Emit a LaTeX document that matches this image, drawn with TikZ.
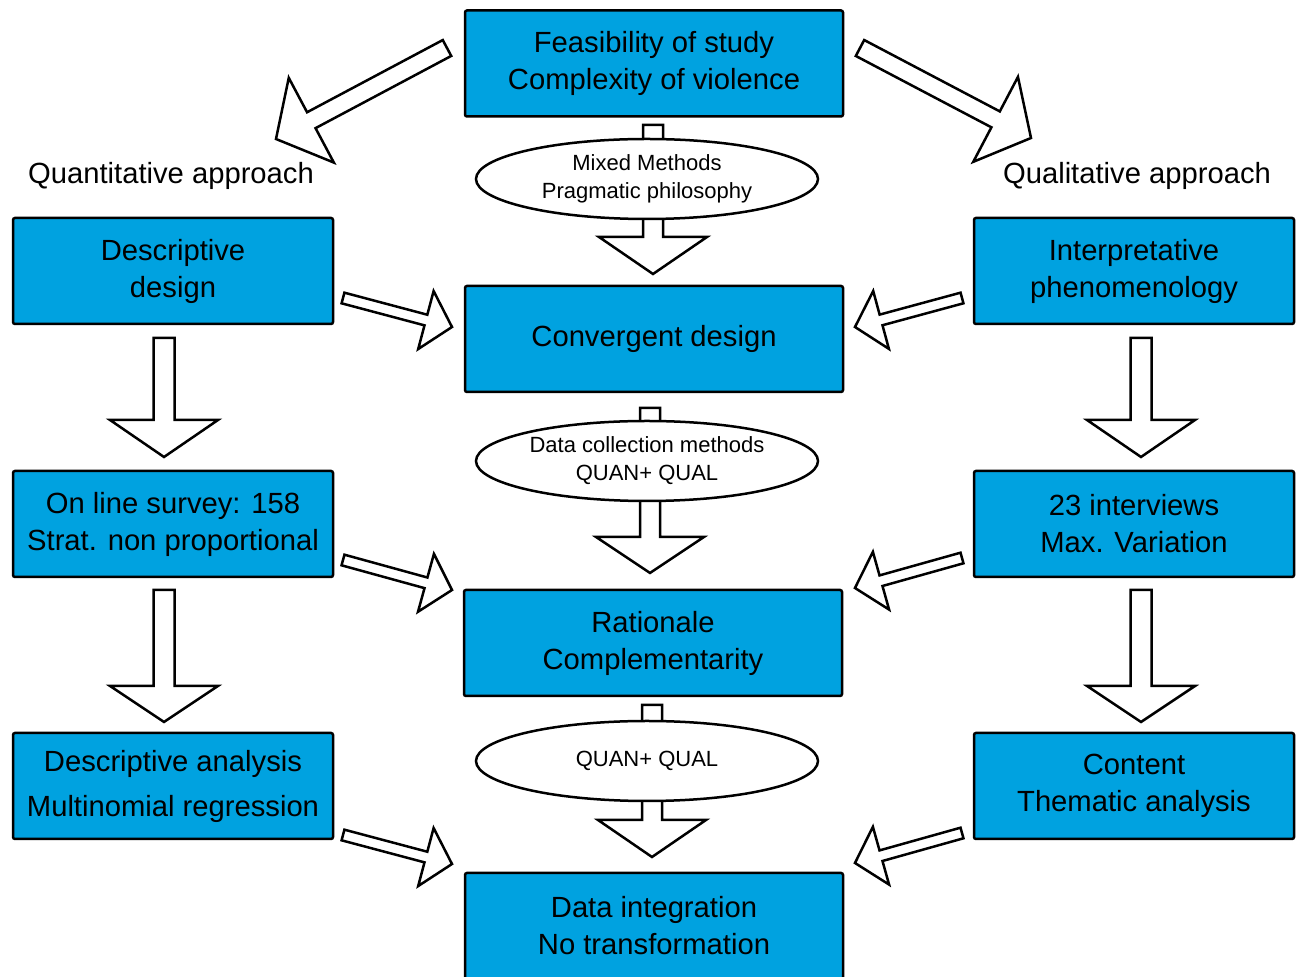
\documentclass[tikz,border=0pt]{standalone}
\usepackage{fontspec}
\setmainfont{Liberation Sans}
\usetikzlibrary{calc,shapes.geometric}
\definecolor{boxblue}{RGB}{0,162,224}
\tikzset{
  bluebox/.style={draw=black, line width=1.25pt, fill=boxblue, rounded corners=1pt,
    align=center, inner sep=0pt, font=\fontsize{14.6}{18.5}\selectfont},
  centerbox/.style={bluebox, minimum width=189pt, minimum height=53pt},
  sidebox/.style={bluebox, minimum width=160pt, minimum height=53pt},
  oval/.style={draw=black, line width=1.25pt, fill=white, ellipse, inner sep=0pt,
    minimum width=171pt, minimum height=40pt, align=center, font=\fontsize{11}{14}\selectfont},
  lbl/.style={inner sep=0pt, font=\fontsize{14.6}{18}\selectfont},
  blockarrow/.style={draw=black, line width=1.25pt, fill=white, line join=miter}
}
% #1 tail, #2 tip, #3 stem half width, #4 head half width, #5 head length
\newcommand{\blockarr}[5]{%
  \path ($(#2)!#5!(#1)$) coordinate (ba-h);
  \draw[blockarrow] ($(#1)!#3!90:(#2)$) -- ($(ba-h)!#3!90:(#2)$) -- ($(ba-h)!#4!90:(#2)$)
    -- (#2) -- ($(ba-h)!#4!-90:(#2)$) -- ($(ba-h)!#3!-90:(#2)$) -- ($(#1)!#3!-90:(#2)$) -- cycle;
}
\begin{document}
\begin{tikzpicture}[x=0.5pt,y=-0.5pt]
\clip (0,0) rectangle (1298,977);
\fill[white] (0,0) rectangle (1298,977);

% boxes
\node[centerbox] (top) at (654,63.5) {Feasibility of study\\Complexity of violence};
\node[centerbox] (conv) at (654,339) {Convergent design};
\node[centerbox] (rat) at (653,643) {Rationale\\Complementarity};
\node[centerbox] (integ) at (654,926) {Data integration\\No transformation};

\node[sidebox] (l1) at (173,271) {Descriptive\\design};
\node[sidebox] (l2) at (173,524) {On line survey: 158\\Strat. non proportional};
\node[sidebox] (l3) at (173,786) {Descriptive analysis\\[4pt]Multinomial regression};

\node[sidebox] (r1) at (1134,271) {Interpretative\\phenomenology};
\node[sidebox] (r2) at (1134,524) {23 interviews\\Max. Variation};
\node[sidebox] (r3) at (1134,786) {Content\\Thematic analysis};

\node[lbl] (quan) at (171,176) {Quantitative approach};
\node[lbl] (qual) at (1137,176) {Qualitative approach};

% coordinates for arrows
\coordinate (c1a) at (653,125); \coordinate (c1b) at (653,274);
\coordinate (c2a) at (650,408); \coordinate (c2b) at (650,573);
\coordinate (c3a) at (652,705); \coordinate (c3b) at (652,857);

\coordinate (lv1a) at (164,338); \coordinate (lv1b) at (164,457);
\coordinate (lv2a) at (164,590); \coordinate (lv2b) at (164,722);
\coordinate (rv1a) at (1141,338); \coordinate (rv1b) at (1141,457);
\coordinate (rv2a) at (1141,590); \coordinate (rv2b) at (1141,722);

\coordinate (dla) at (447,48); \coordinate (dlb) at (276,139);
\coordinate (dra) at (860,48); \coordinate (drb) at (1031,138);

\coordinate (m1a) at (343,298); \coordinate (m1b) at (452,327);
\coordinate (m2a) at (962,298); \coordinate (m2b) at (855,327);
\coordinate (m3a) at (343,560); \coordinate (m3b) at (452,590);
\coordinate (m4a) at (962,558); \coordinate (m4b) at (855,588);
\coordinate (m5a) at (343,835); \coordinate (m5b) at (452,864);
\coordinate (m6a) at (962,833); \coordinate (m6b) at (855,863);

% central arrows
\blockarr{c1a}{c1b}{5pt}{27pt}{18.5pt}
\blockarr{c2a}{c2b}{5pt}{27pt}{18pt}
\blockarr{c3a}{c3b}{5pt}{27pt}{18.5pt}

% ellipses
\node[oval] (e1) at (647,179) {Mixed Methods\\Pragmatic philosophy};
\node[oval] (e2) at (647,461) {Data collection methods\\QUAN+ QUAL};
\node[oval] (e3) at (647,761) {QUAN+ QUAL};

% side vertical arrows
\blockarr{lv1a}{lv1b}{5.25pt}{27pt}{18.5pt}
\blockarr{lv2a}{lv2b}{5.25pt}{27pt}{18pt}
\blockarr{rv1a}{rv1b}{5.25pt}{27pt}{18.5pt}
\blockarr{rv2a}{rv2b}{5.25pt}{27pt}{18pt}

% top diagonals
\blockarr{dla}{dlb}{4.5pt}{24pt}{20pt}
\blockarr{dra}{drb}{4.5pt}{24pt}{20pt}

% small diagonals
\blockarr{m1a}{m1b}{2.75pt}{15pt}{13.5pt}
\blockarr{m2a}{m2b}{2.75pt}{15pt}{13.5pt}
\blockarr{m3a}{m3b}{2.75pt}{15pt}{13.5pt}
\blockarr{m4a}{m4b}{2.75pt}{15pt}{13.5pt}
\blockarr{m5a}{m5b}{2.75pt}{15pt}{13.5pt}
\blockarr{m6a}{m6b}{2.75pt}{15pt}{13.5pt}
\end{tikzpicture}
\end{document}
